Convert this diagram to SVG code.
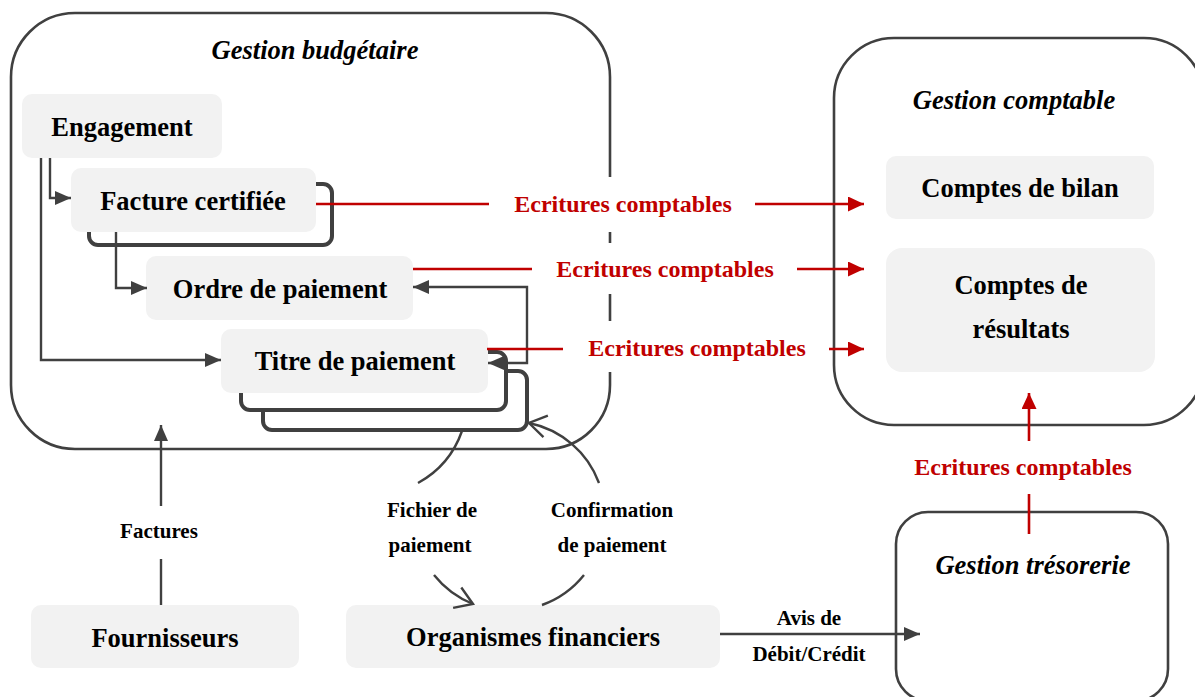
<svg xmlns="http://www.w3.org/2000/svg" width="1195" height="697" viewBox="0 0 1195 697">
<style>
text{font-family:"Liberation Serif","Times New Roman",serif;font-weight:bold;fill:#000;text-anchor:middle}
.node{font-size:26.5px}
.title{font-size:26.5px;font-style:italic}
.red{font-size:24px;fill:#c00000}
.small{font-size:21px}
.box{fill:#f2f2f2;stroke:none}
.cont{fill:#fff;stroke:#404040;stroke-width:2.6}
.stack{fill:#fff;stroke:#404040;stroke-width:4}
.conn{fill:none;stroke:#404040;stroke-width:2.4}
.rl{fill:none;stroke:#c00000;stroke-width:2.6}
.bg{fill:#fff;stroke:none}
</style>
<defs>
<marker id="ah" viewBox="0 0 16 14" refX="16" refY="7" markerUnits="userSpaceOnUse" markerWidth="16" markerHeight="14" orient="auto-start-reverse"><path d="M0,0 L16,7 L0,14 z" fill="#404040"/></marker>
<marker id="rh" viewBox="0 0 16 15" refX="16" refY="7.5" markerUnits="userSpaceOnUse" markerWidth="16" markerHeight="15" orient="auto"><path d="M0,0 L16,7.5 L0,15 z" fill="#c00000"/></marker>
<marker id="ch" viewBox="0 0 22 26" refX="20" refY="13" markerUnits="userSpaceOnUse" markerWidth="22" markerHeight="26" orient="auto"><path d="M3,2 L20,13 L3,24" fill="none" stroke="#404040" stroke-width="2.4"/></marker>
</defs>

<g id="gestion-budgetaire">
<rect class="cont" x="11" y="13" width="599" height="436" rx="64"/>
<text class="title" x="315" y="59">Gestion budgétaire</text>
</g>
<g id="gestion-comptable">
<rect class="cont" x="834" y="38" width="370" height="387" rx="60"/>
<text class="title" x="1014" y="109">Gestion comptable</text>
</g>
<g id="gestion-tresorerie">
<rect class="cont" x="896" y="512" width="272" height="189" rx="32"/>
<text class="title" x="1033" y="574">Gestion trésorerie</text>
</g>

<g id="engagement">
<rect class="box" x="22" y="94" width="200" height="64" rx="10"/>
<text class="node" x="122" y="136">Engagement</text>
</g>
<g id="facture-certifiee">
<rect class="stack" x="89" y="184" width="243" height="61" rx="9"/>
<rect class="box" x="71" y="168" width="245" height="64" rx="10"/>
<text class="node" x="193" y="210">Facture certifiée</text>
</g>
<g id="ordre-de-paiement">
<rect class="box" x="146" y="256" width="267" height="64" rx="10"/>
<text class="node" x="280" y="298">Ordre de paiement</text>
</g>
<g id="titre-de-paiement">
<rect class="stack" x="263" y="371" width="264" height="59" rx="9"/>
<rect class="stack" x="241" y="352" width="265" height="58" rx="9"/>
<rect class="box" x="221" y="329" width="267" height="64" rx="10"/>
<text class="node" x="355" y="370">Titre de paiement</text>
</g>
<g id="comptes-de-bilan">
<rect class="box" x="886" y="156" width="268" height="63" rx="10"/>
<text class="node" x="1020" y="197">Comptes de bilan</text>
</g>
<g id="comptes-de-resultats">
<rect class="box" x="886" y="248" width="269" height="124" rx="16"/>
<text class="node" x="1021" y="294">Comptes de</text>
<text class="node" x="1021" y="338">résultats</text>
</g>
<g id="fournisseurs">
<rect class="box" x="31" y="605" width="268" height="63" rx="10"/>
<text class="node" x="165" y="647">Fournisseurs</text>
</g>
<g id="organismes-financiers">
<rect class="box" x="346" y="605" width="374" height="63" rx="10"/>
<text class="node" x="533" y="646">Organismes financiers</text>
</g>

<g id="connectors">
<path class="conn" d="M418,483 A95,95 0 0 0 462,431"/>
<path class="conn" d="M434,575 A95,95 0 0 0 473,604" marker-end="url(#ch)"/>
<path class="conn" d="M542,605 A95,95 0 0 0 584,575"/>
<path class="conn" d="M599,483 A95,95 0 0 0 529,423" marker-end="url(#ch)"/>
<path class="conn" d="M50,158 V198 H71" marker-end="url(#ah)"/>
<path class="conn" d="M41,158 V360 H221" marker-end="url(#ah)"/>
<path class="conn" d="M116,232 V288 H147" marker-end="url(#ah)"/>
<path class="conn" d="M488,363 H527 V287 H413" marker-start="url(#ah)" marker-end="url(#ah)"/>
<path class="conn" d="M161,605 V559"/>
<path class="conn" d="M161,506 V425" marker-end="url(#ah)"/>
<path class="conn" d="M720,634 H920" marker-end="url(#ah)"/>
<rect class="bg" x="489" y="177" width="266" height="55"/>
<rect class="bg" x="532" y="243" width="265" height="51"/>
<rect class="bg" x="563" y="321" width="266" height="51"/>
<path class="rl" d="M316,204 H489"/>
<path class="rl" d="M755,204 H864" marker-end="url(#rh)"/>
<path class="rl" d="M413,269 H532"/>
<path class="rl" d="M797,269 H864" marker-end="url(#rh)"/>
<path class="rl" d="M487,349 H563"/>
<path class="rl" d="M829,349 H864" marker-end="url(#rh)"/>
<path class="rl" d="M1029,534 V494"/>
<path class="rl" d="M1029,441 V393" marker-end="url(#rh)"/>
<text class="red" x="623" y="212">Ecritures comptables</text>
<text class="red" x="665" y="277">Ecritures comptables</text>
<text class="red" x="697" y="356">Ecritures comptables</text>
<text class="red" x="1023" y="475">Ecritures comptables</text>
<text class="small" x="159" y="538">Factures</text>
<text class="small" x="432" y="517">Fichier de</text>
<text class="small" x="430" y="552">paiement</text>
<text class="small" x="612" y="517">Confirmation</text>
<text class="small" x="612" y="552">de paiement</text>
<text class="small" x="809" y="625">Avis de</text>
<text class="small" x="809" y="661">Débit/Crédit</text>
</g>
</svg>
